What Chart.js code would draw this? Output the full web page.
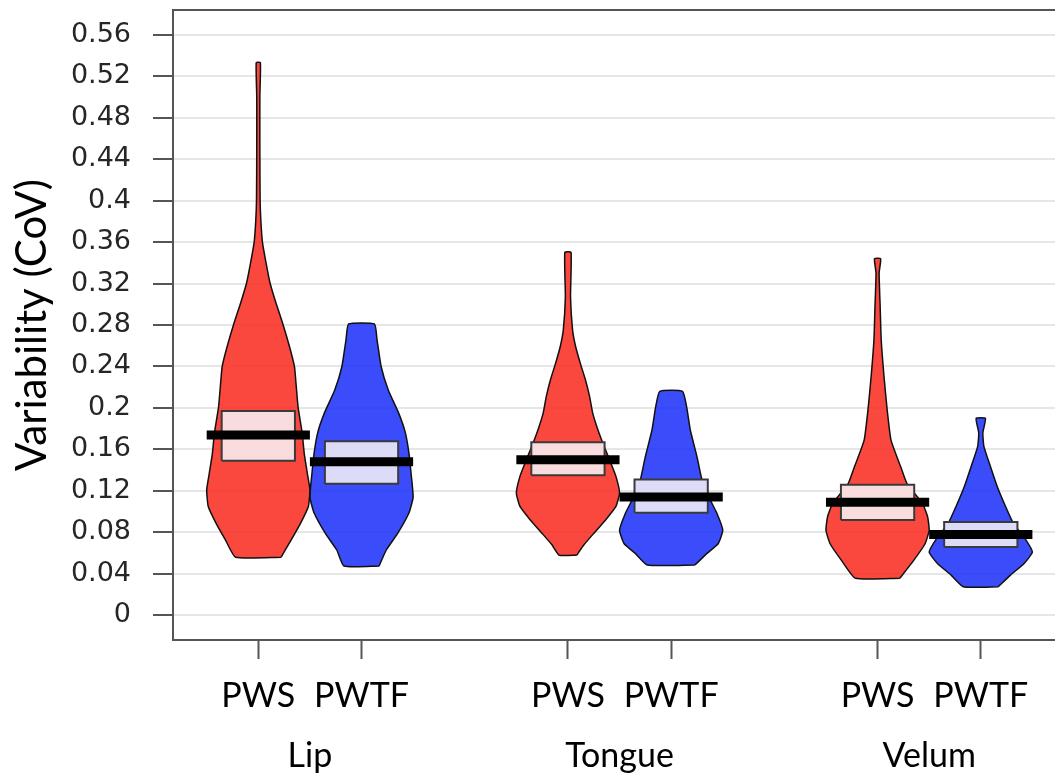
<!DOCTYPE html>
<html lang="en">
<head>
    <meta charset="UTF-8">
    <title>Variability (CoV) by articulator</title>
    <script src="https://cdn.jsdelivr.net/npm/chart.js"></script>
    <style>
        html, body { margin: 0; padding: 0; background: #fff; overflow: hidden; }
        #wrap { width: 1090px; height: 778px; }
    </style>
</head>
<body>
    <div id="wrap"><canvas id="violins" width="1090" height="778"></canvas></div>

    <script>
        // Articulators and speaker groups
        const categories = ['Lip', 'Tongue', 'Velum'];
        const groups = ['PWS', 'PWTF'];
        const positions = [1, 2, 4, 5, 7, 8];
        const categoryCenters = [1.5, 4.5, 7.5];

        // Density outline of each violin: CoV levels and relative width (1 = widest)
        const lipPwsLevels = [0.056, 0.073, 0.089, 0.105, 0.121, 0.137, 0.156, 0.176, 0.201, 0.224, 0.240, 0.260, 0.282, 0.300, 0.320, 0.340, 0.360, 0.380, 0.400, 0.450, 0.500, 0.533];
        const lipPwsDensity = [0.44, 0.64, 0.82, 0.97, 1.0, 0.95, 0.89, 0.85, 0.77, 0.73, 0.70, 0.60, 0.47, 0.35, 0.23, 0.15, 0.08, 0.05, 0.035, 0.03, 0.03, 0.04];

        const lipPwtfLevels = [0.0475, 0.063, 0.079, 0.099, 0.114, 0.137, 0.156, 0.176, 0.195, 0.217, 0.240, 0.266, 0.281];
        const lipPwtfDensity = [0.34, 0.48, 0.70, 0.92, 1.0, 0.96, 0.92, 0.85, 0.72, 0.52, 0.38, 0.30, 0.25];

        const tonguePwsLevels = [0.058, 0.068, 0.079, 0.092, 0.105, 0.118, 0.134, 0.147, 0.163, 0.179, 0.195, 0.211, 0.227, 0.243, 0.259, 0.275, 0.307, 0.350];
        const tonguePwsDensity = [0.17, 0.31, 0.50, 0.73, 0.93, 1.0, 0.93, 0.83, 0.70, 0.58, 0.48, 0.42, 0.34, 0.24, 0.15, 0.09, 0.05, 0.06];

        const tonguePwtfLevels = [0.0485, 0.060, 0.069, 0.082, 0.098, 0.114, 0.130, 0.153, 0.179, 0.201, 0.216];
        const tonguePwtfDensity = [0.46, 0.70, 0.91, 1.0, 0.89, 0.73, 0.60, 0.50, 0.37, 0.30, 0.22];

        const velumPwsLevels = [0.0357, 0.053, 0.069, 0.082, 0.095, 0.108, 0.127, 0.143, 0.169, 0.201, 0.233, 0.266, 0.298, 0.330, 0.344];
        const velumPwsDensity = [0.43, 0.70, 0.92, 1.0, 0.97, 0.87, 0.57, 0.45, 0.26, 0.18, 0.12, 0.07, 0.05, 0.03, 0.06];

        const velumPwtfLevels = [0.0276, 0.039, 0.050, 0.061, 0.073, 0.089, 0.105, 0.124, 0.143, 0.163, 0.176, 0.190];
        const velumPwtfDensity = [0.34, 0.58, 0.84, 1.0, 0.87, 0.63, 0.48, 0.32, 0.19, 0.06, 0.04, 0.09];

        // Interquartile boxes and means, same order as positions
        const boxLow = [0.149, 0.127, 0.135, 0.099, 0.092, 0.066];
        const boxHigh = [0.197, 0.168, 0.167, 0.131, 0.126, 0.090];
        const means = [0.174, 0.148, 0.150, 0.114, 0.109, 0.078];

        // Axis ticks
        const yTicks = [0, 0.04, 0.08, 0.12, 0.16, 0.2, 0.24, 0.28, 0.32, 0.36, 0.4, 0.44, 0.48, 0.52, 0.56];
        const yTickLabels = ['0', '0.04', '0.08', '0.12', '0.16', '0.2', '0.24', '0.28', '0.32', '0.36', '0.4', '0.44', '0.48', '0.52', '0.56'];

        const violins = [
            [lipPwsLevels, lipPwsDensity],
            [lipPwtfLevels, lipPwtfDensity],
            [tonguePwsLevels, tonguePwsDensity],
            [tonguePwtfLevels, tonguePwtfDensity],
            [velumPwsLevels, velumPwsDensity],
            [velumPwtfLevels, velumPwtfDensity]
        ];

        const X_MIN = 0.1735, X_MAX = 9;
        const Y_MIN = -0.0238, Y_MAX = 0.5838;
        const VIOLIN_HALF = 0.5;
        const BOX_HALF = 0.355;
        const MEAN_HALF = 0.5;

        const fills = ['rgba(250, 45, 35, 0.87)', 'rgba(30, 50, 250, 0.87)'];
        const boxFills = ['#f9dcdd', '#dcdcf9'];

        // closed outline: right side bottom-up, left side top-down
        function outline(center, levels, density) {
            const right = levels.map((v, i) => ({ x: center + density[i] * VIOLIN_HALF, y: v }));
            const left = levels.map((v, i) => ({ x: center - density[i] * VIOLIN_HALF, y: v })).reverse();
            const pts = right.concat(left);
            pts.push(pts[0]);
            return pts;
        }

        function rect(center, lo, hi) {
            return [
                { x: center - BOX_HALF, y: lo },
                { x: center + BOX_HALF, y: lo },
                { x: center + BOX_HALF, y: hi },
                { x: center - BOX_HALF, y: hi },
                { x: center - BOX_HALF, y: lo }
            ];
        }

        const datasets = [];
        positions.forEach((pos, i) => {
            const g = i % 2;
            datasets.push({
                label: categories[Math.floor(i / 2)] + ' ' + groups[g],
                data: outline(pos, violins[i][0], violins[i][1]),
                backgroundColor: fills[g],
                borderColor: '#111',
                borderWidth: 1.5,
                fill: 'shape',
                tension: 0.15,
                pointRadius: 0,
                order: 3
            });
            datasets.push({
                data: rect(pos, boxLow[i], boxHigh[i]),
                backgroundColor: boxFills[g],
                borderColor: '#3a3a3a',
                borderWidth: 2,
                fill: 'shape',
                tension: 0,
                pointRadius: 0,
                order: 2
            });
            datasets.push({
                data: [{ x: pos - MEAN_HALF, y: means[i] }, { x: pos + MEAN_HALF, y: means[i] }],
                borderColor: '#000',
                borderWidth: 9,
                borderCapStyle: 'butt',
                fill: false,
                pointRadius: 0,
                order: 1
            });
        });

        const noPadding = (s) => {
            s.paddingLeft = 0; s.paddingRight = 0; s.paddingTop = 0; s.paddingBottom = 0;
        };

        // box around the plotting region
        const frame = {
            id: 'frame',
            afterDatasetsDraw(chart) {
                const { ctx, chartArea: a } = chart;
                ctx.save();
                ctx.strokeStyle = '#555';
                ctx.lineWidth = 2;
                ctx.strokeRect(a.left, a.top, a.right - a.left, a.bottom - a.top);
                ctx.restore();
            }
        };

        Chart.defaults.font.family = 'Lato';

        new Chart(document.getElementById('violins'), {
            type: 'line',
            data: { datasets },
            plugins: [frame],
            options: {
                responsive: false,
                animation: false,
                devicePixelRatio: 1,
                layout: { padding: { top: 10, right: 6, bottom: 0, left: 0 } },
                plugins: { legend: { display: false }, tooltip: { enabled: false } },
                scales: {
                    x: {
                        type: 'linear',
                        position: 'bottom',
                        weight: 0,
                        min: X_MIN,
                        max: X_MAX,
                        afterBuildTicks: (s) => { s.ticks = positions.map(v => ({ value: v })); },
                        afterFit: (s) => { s.height = 82; noPadding(s); },
                        ticks: {
                            autoSkip: false,
                            maxRotation: 0,
                            padding: 17,
                            color: '#000',
                            font: { size: 34 },
                            callback: (v, i) => groups[i % 2]
                        },
                        grid: { drawOnChartArea: false, tickLength: 19, tickColor: '#555', tickWidth: 2 },
                        border: { display: false }
                    },
                    articulator: {
                        type: 'linear',
                        position: 'bottom',
                        weight: 1,
                        min: X_MIN,
                        max: X_MAX,
                        afterBuildTicks: (s) => { s.ticks = categoryCenters.map(v => ({ value: v })); },
                        afterFit: (s) => { s.height = 56; noPadding(s); },
                        ticks: {
                            autoSkip: false,
                            maxRotation: 0,
                            padding: 6,
                            color: '#000',
                            font: { size: 34 },
                            callback: (v, i) => categories[i]
                        },
                        grid: { display: false },
                        border: { display: false }
                    },
                    y: {
                        min: Y_MIN,
                        max: Y_MAX,
                        afterBuildTicks: (s) => { s.ticks = yTicks.map(v => ({ value: v })); },
                        afterFit: (s) => { s.width = 173; noPadding(s); },
                        ticks: {
                            autoSkip: false,
                            padding: 22,
                            color: '#262626',
                            font: { family: 'DejaVu Sans', size: 27 },
                            callback: (v, i) => yTickLabels[i]
                        },
                        grid: { color: '#e6e6e6', lineWidth: 2, tickLength: 20, tickColor: '#555', tickWidth: 2 },
                        border: { display: false },
                        title: {
                            display: true,
                            text: 'Variability (CoV)',
                            color: '#000',
                            font: { size: 42 },
                            padding: { top: 7, bottom: 0 }
                        }
                    }
                }
            }
        });
    </script>
</body>
</html>
